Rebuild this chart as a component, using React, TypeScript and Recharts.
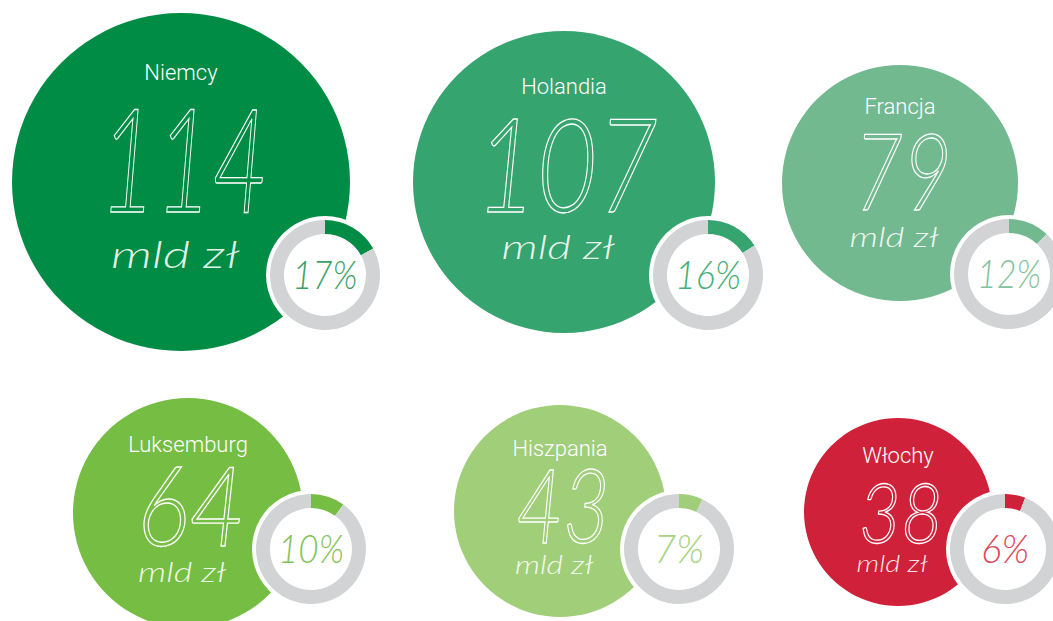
import { Cell, Pie, PieChart } from "recharts";

const countries = ["Niemcy", "Holandia", "Francja", "Luksemburg", "Hiszpania", "Włochy"];
const amounts = [114, 107, 79, 64, 43, 38];
const shares = [17, 16, 12, 10, 7, 6];
const unitLabel = "mld zł";

const fills = ["#008c45", "#36a46e", "#73b990", "#76bd43", "#a1cf79", "#d0213a"];
const pctColors = ["#3d9f68", "#45ad7a", "#84c29f", "#84c35a", "#a6d37f", "#d94a5d"];
const RING_GREY = "#d1d3d4";

// layout per bubble: centre, radius, donut centre, text baselines, sizes
const layout = [
  { cx: 181, cy: 182, r: 169, dx: 325, dy: 275, nameY: 80, numY: 212, numSize: 145, numW: 168, unitY: 268, unitSize: 38, unitW: 128 },
  { cx: 564, cy: 182, r: 151, dx: 708, dy: 275, nameY: 94, numY: 212, numSize: 130, numW: 182, unitY: 259, unitSize: 34, unitW: 113 },
  { cx: 900, cy: 183, r: 118, dx: 1009, dy: 274, nameY: 114, numY: 210, numSize: 107, numW: 98, unitY: 247, unitSize: 28, unitW: 89 },
  { cx: 188, cy: 513, r: 115, dx: 311, dy: 549, nameY: 452, numY: 546, numSize: 110, numW: 108, unitY: 582, unitSize: 28, unitW: 88 },
  { cx: 560, cy: 511, r: 106, dx: 679, dy: 549, nameY: 456, numY: 543, numSize: 103, numW: 94, unitY: 574, unitSize: 26, unitW: 78 },
  { cx: 898, cy: 512, r: 94, dx: 1005, dy: 549, nameY: 463, numY: 543, numSize: 83, numW: 84, unitY: 572, unitSize: 24, unitW: 71 },
];
const pctW = [65, 66, 64, 66, 50, 48];

function BubbleText({ i }: { i: number }) {
  const l = layout[i];
  return (
    <g>
      <text
        x={l.cx}
        y={l.nameY}
        textAnchor="middle"
        fill="#fff"
        fontFamily="Roboto, 'Liberation Sans', sans-serif"
        fontWeight={300}
        fontSize={22}
      >
        {countries[i]}
      </text>
      <text
        x={l.cx + 3}
        y={l.numY}
        textAnchor="middle"
        fill={fills[i]}
        stroke="#fff"
        strokeWidth={1.3}
        fontFamily="Lato, sans-serif"
        fontWeight={300}
        fontStyle="italic"
        fontSize={l.numSize}
        textLength={l.numW}
        lengthAdjust="spacingAndGlyphs"
      >
        {amounts[i]}
      </text>
      <text
        x={l.cx - 6}
        y={l.unitY}
        textAnchor="middle"
        fill="#fff"
        fillOpacity={0.9}
        fontFamily="Lato, sans-serif"
        fontWeight={300}
        fontStyle="italic"
        fontSize={l.unitSize}
        textLength={l.unitW}
        lengthAdjust="spacingAndGlyphs"
      >
        {unitLabel}
      </text>
    </g>
  );
}

function PctText({ i }: { i: number }) {
  const l = layout[i];
  return (
    <text
      x={l.dx}
      y={l.dy + 14}
      textAnchor="middle"
      fill={pctColors[i]}
      fontFamily="Lato, sans-serif"
      fontWeight={300}
      fontStyle="italic"
      fontSize={40}
      textLength={pctW[i]}
      lengthAdjust="spacingAndGlyphs"
    >
      {shares[i]}%
    </text>
  );
}

export default function App() {
  return (
    <div style={{ position: "absolute", left: 0, top: 0, background: "#fff" }}>
      <PieChart width={1053} height={621} margin={{ top: 0, right: 0, bottom: 0, left: 0 }}>
        {countries.map((c, i) => (
          <Pie
            key={"bubble-" + c}
            data={[{ name: c, value: amounts[i] }]}
            dataKey="value"
            cx={layout[i].cx}
            cy={layout[i].cy}
            outerRadius={layout[i].r}
            startAngle={90}
            endAngle={-270}
            fill={fills[i]}
            stroke="none"
            labelLine={false}
            label={() => <BubbleText i={i} />}
            isAnimationActive={false}
          />
        ))}
        {countries.map((c, i) => (
          <Pie
            key={"halo-" + c}
            data={[{ name: c, value: 100 }]}
            dataKey="value"
            cx={layout[i].dx}
            cy={layout[i].dy}
            outerRadius={59}
            startAngle={90}
            endAngle={-270}
            fill="#fff"
            stroke="none"
            labelLine={false}
            label={() => <PctText i={i} />}
            isAnimationActive={false}
          />
        ))}
        {countries.map((c, i) => (
          <Pie
            key={"ring-" + c}
            data={[
              { name: "share", value: shares[i] },
              { name: "rest", value: 100 - shares[i] },
            ]}
            dataKey="value"
            cx={layout[i].dx}
            cy={layout[i].dy}
            innerRadius={41}
            outerRadius={55}
            startAngle={90}
            endAngle={-270}
            stroke="none"
            isAnimationActive={false}
          >
            <Cell fill={fills[i]} />
            <Cell fill={RING_GREY} />
          </Pie>
        ))}
      </PieChart>
    </div>
  );
}
